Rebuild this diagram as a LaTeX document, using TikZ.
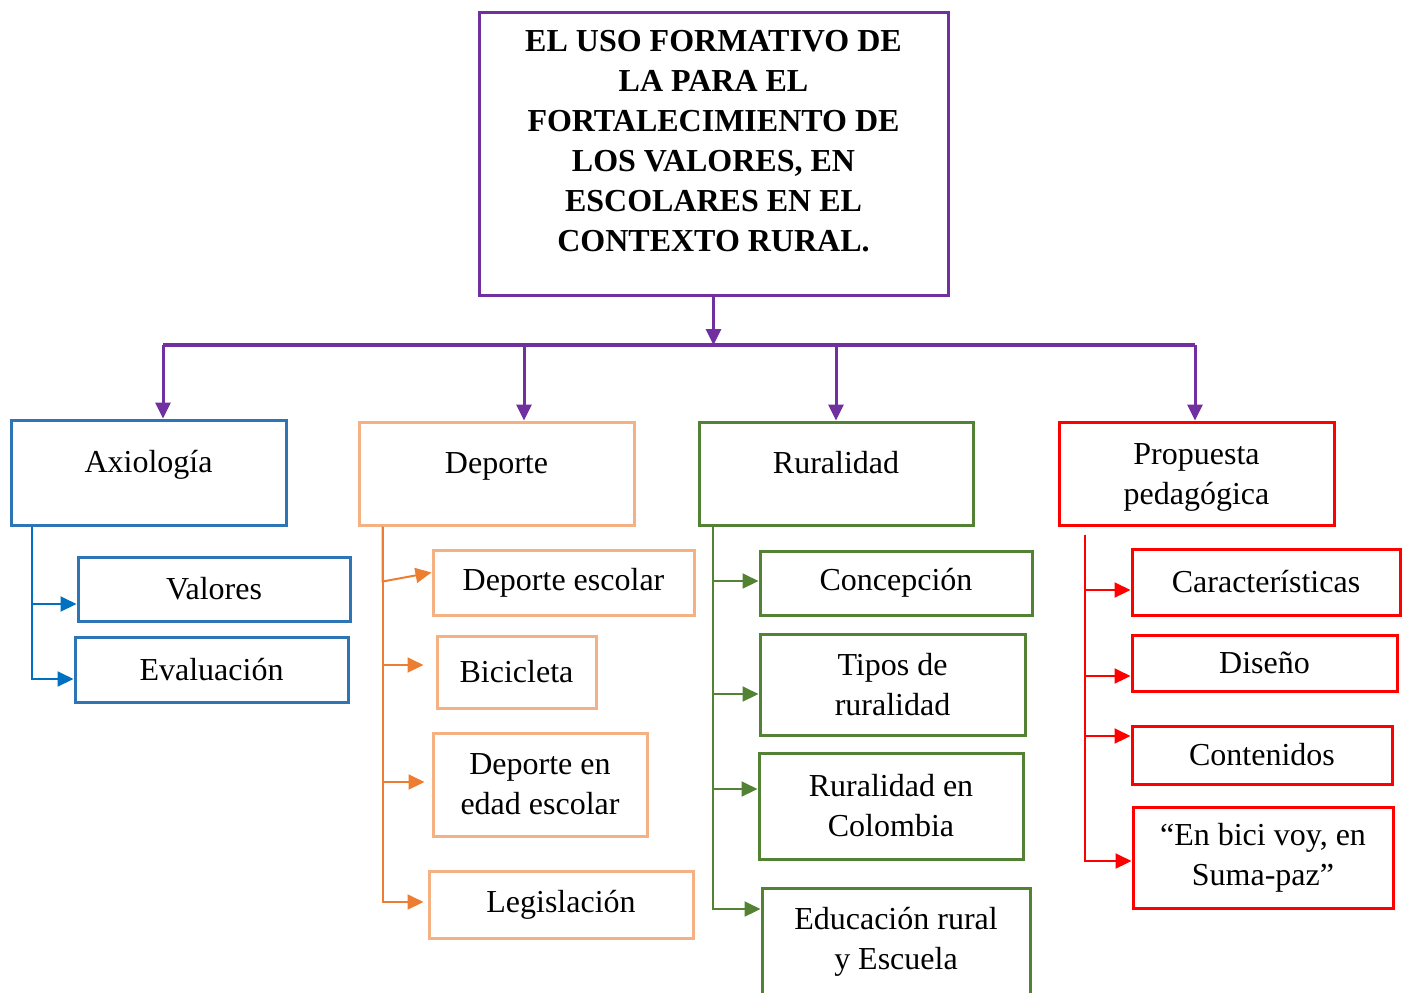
\documentclass[tikz,border=0pt]{standalone}
\usepackage{fontspec}
\setmainfont{Liberation Serif}
\usetikzlibrary{arrows.meta}

\definecolor{morado}{HTML}{7030A0}
\definecolor{azul}{HTML}{2E75B6}
\definecolor{azulln}{HTML}{0070C0}
\definecolor{naranja}{HTML}{F4B183}
\definecolor{naranjaln}{HTML}{ED7D31}
\definecolor{verde}{HTML}{548235}
\definecolor{rojo}{HTML}{FF0000}

\tikzset{
  box/.style={draw, line width=1.5pt, inner sep=0pt, align=center, font=\fontsize{16}{20}\selectfont},
  link/.style={line width=1pt, ->}
}

\begin{document}
\begin{tikzpicture}[x=0.5pt, y=-0.5pt, >={Triangle[length=8pt,width=7.5pt]}]
\useasboundingbox (0,0) rectangle (1406,992);

\node[box, draw=morado, minimum width=234.5pt, text height=119.5pt, text depth=22pt, font=\fontsize{16}{20}\selectfont\bfseries] (title) at (713.5,153.5) {EL USO FORMATIVO DE\\LA PARA EL\\FORTALECIMIENTO DE\\LOS VALORES, EN\\ESCOLARES EN EL\\CONTEXTO RURAL.};

% primer nivel
\node[box, draw=azul, minimum width=137.5pt, text height=26.25pt, text depth=26.25pt] (axio) at (148.5,472.5) {Axiología};
\node[box, draw=naranja, minimum width=137.5pt, text height=25.75pt, text depth=25.75pt] (deporte) at (496.5,473.5) {Deporte};
\node[box, draw=verde, minimum width=137pt, text height=25.75pt, text depth=25.75pt] (rural) at (836,473.5) {Ruralidad};
\node[box, draw=rojo, minimum width=137.5pt, text height=41.25pt, text depth=10.25pt] (prop) at (1196.5,473.5) {Propuesta\\pedagógica};

% segundo nivel
\node[box, draw=azul, minimum width=136pt, minimum height=32pt] (valores) at (214,589) {Valores};
\node[box, draw=azul, minimum width=136.5pt, minimum height=32.5pt] (evalua) at (211.5,669.5) {Evaluación};

\node[box, draw=naranja, minimum width=130.5pt, minimum height=32.5pt] (escolar) at (563.5,582.5) {Deporte escolar};
\node[box, draw=naranja, minimum width=79.5pt, minimum height=36pt] (bici) at (516.5,672) {Bicicleta};
\node[box, draw=naranja, minimum width=107pt, minimum height=51.5pt] (edad) at (540,784.5) {Deporte en\\edad escolar};
\node[box, draw=naranja, minimum width=132pt, minimum height=33.5pt] (legis) at (561,904.5) {Legislación};

\node[box, draw=verde, minimum width=136pt, minimum height=32pt] (concep) at (896,583) {Concepción};
\node[box, draw=verde, minimum width=132.5pt, minimum height=50.5pt] (tipos) at (892.5,684.5) {Tipos de\\ruralidad};
\node[box, draw=verde, minimum width=132pt, minimum height=53pt] (colombia) at (891,806) {Ruralidad en\\Colombia};
\node[box, draw=verde, minimum width=134pt, minimum height=54pt] (escuela) at (896,942) {Educación rural\\y Escuela};

\node[box, draw=rojo, minimum width=134pt, minimum height=33pt] (carac) at (1266,582) {Características};
\node[box, draw=rojo, minimum width=132.5pt, minimum height=28pt] (diseno) at (1264.5,663) {Diseño};
\node[box, draw=rojo, minimum width=130pt, minimum height=29pt] (conten) at (1262,755) {Contenidos};
\node[box, draw=rojo, minimum width=130pt, minimum height=50.5pt] (enbici) at (1263,858) {“En bici voy, en\\Suma-paz”};

% barra
\coordinate (barL) at (163,345);
\coordinate (bar2) at (524,345);
\coordinate (bar3) at (836,345);
\coordinate (barR) at (1195,345);
\draw[morado, line width=1.5pt, ->] (title.south) -- (title.south |- barL);
\draw[morado, line width=2pt] (barL) -- (barR);
\draw[morado, line width=1.5pt, ->] (barL) -- (barL |- axio.north);
\draw[morado, line width=1.5pt, ->] (bar2) -- (bar2 |- deporte.north);
\draw[morado, line width=1.5pt, ->] (bar3) -- (bar3 |- rural.north);
\draw[morado, line width=1.5pt, ->] (barR) -- (barR |- prop.north);

\draw[azulln, link] ([xshift=11pt]axio.south west) |- ([yshift=-7.5pt]valores.west);
\draw[azulln, link] ([xshift=11pt]axio.south west) |- ([yshift=-4.75pt]evalua.west);

\draw[naranjaln, link] ([xshift=12.5pt]deporte.south west) -- ++(0,55) -- ([yshift=5pt]escolar.west);
\draw[naranjaln, link] ([xshift=12.5pt]deporte.south west) |- ([xshift=-6pt,yshift=3.5pt]bici.west);
\draw[naranjaln, link] ([xshift=12.5pt]deporte.south west) |- ([xshift=-3.5pt,yshift=1.25pt]edad.west);
\draw[naranjaln, link] ([xshift=12.5pt]deporte.south west) |- ([xshift=-2pt,yshift=1.25pt]legis.west);

\draw[verde, link] ([xshift=7.5pt]rural.south west) |- ([yshift=1pt]concep.west);
\draw[verde, link] ([xshift=7.5pt]rural.south west) |- ([yshift=-4.75pt]tipos.west);
\draw[verde, link] ([xshift=7.5pt]rural.south west) |- ([yshift=8.5pt]colombia.west);
\draw[verde, link] ([xshift=7.5pt]rural.south west) |- ([yshift=16.5pt]escuela.west);

\draw[rojo, link] ([xshift=13.5pt,yshift=-4pt]prop.south west) |- ([yshift=-4pt]carac.west);
\draw[rojo, link] ([xshift=13.5pt,yshift=-4pt]prop.south west) |- ([yshift=-6.5pt]diseno.west);
\draw[rojo, link] ([xshift=13.5pt,yshift=-4pt]prop.south west) |- ([yshift=9.5pt]conten.west);
\draw[rojo, link] ([xshift=13.5pt,yshift=-4pt]prop.south west) |- ([yshift=-1.5pt]enbici.west);
\end{tikzpicture}
\end{document}
